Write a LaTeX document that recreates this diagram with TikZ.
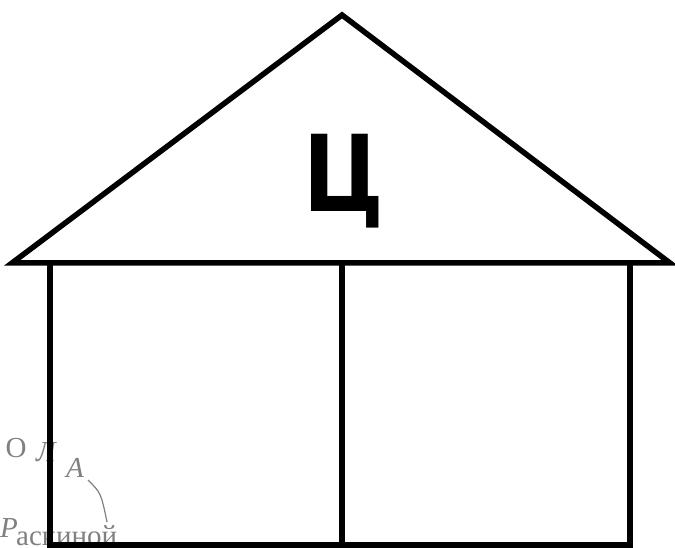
\documentclass[tikz,border=0pt]{standalone}
\usepackage{fontspec}
\newfontfamily\letterfont{DejaVu Sans}
\newfontfamily\faintfont{Liberation Serif}
\begin{document}
\begin{tikzpicture}[x=1pt,y=-1pt,
  edge/.style={line width=5.5pt,line join=miter},
  faint/.style={text=black!50,inner sep=0pt},
  faintup/.style={faint,font=\faintfont\fontsize{29}{29}\selectfont},
  faintit/.style={faint,font=\faintfont\itshape\fontsize{29}{29}\selectfont}]
\useasboundingbox (0,0) rectangle (675,548);
% faint scan remnants
\node[faintup] (o) at (16,448) {О};
\node[faintit] (l) at (46,452) {Л};
\node[faintit] (a) at (75,468) {А};
\coordinate (c1) at (88,480);
\coordinate (c2) at (107,522);
\draw[black!50,line width=1.2pt] (c1) .. controls (101,493) .. (c2);
\node[faintit,anchor=base west] (p) at (0,537) {Р};
\node[faintup,anchor=base west] (r) at (16,545) {аскиной};
% house
\coordinate (apex) at (342,15);
\coordinate (rl) at (12,263);
\coordinate (rr) at (670,263);
\coordinate (wl) at (50,263);
\coordinate (wm) at (342,263);
\coordinate (wr) at (630,263);
\coordinate (bl) at (50,545);
\coordinate (bm) at (342,545);
\coordinate (br) at (630,545);
\draw[edge] (rl) -- (apex) -- (rr) -- cycle;
\draw[edge] (wl) -- (bl) -- (br) -- (wr);
\draw[edge] (wm) -- (bm);
\node[font=\letterfont\bfseries\fontsize{106}{106}\selectfont,inner sep=0pt,anchor=base,xscale=0.82] (ts) at (344,212) {Ц};
\end{tikzpicture}
\end{document}
